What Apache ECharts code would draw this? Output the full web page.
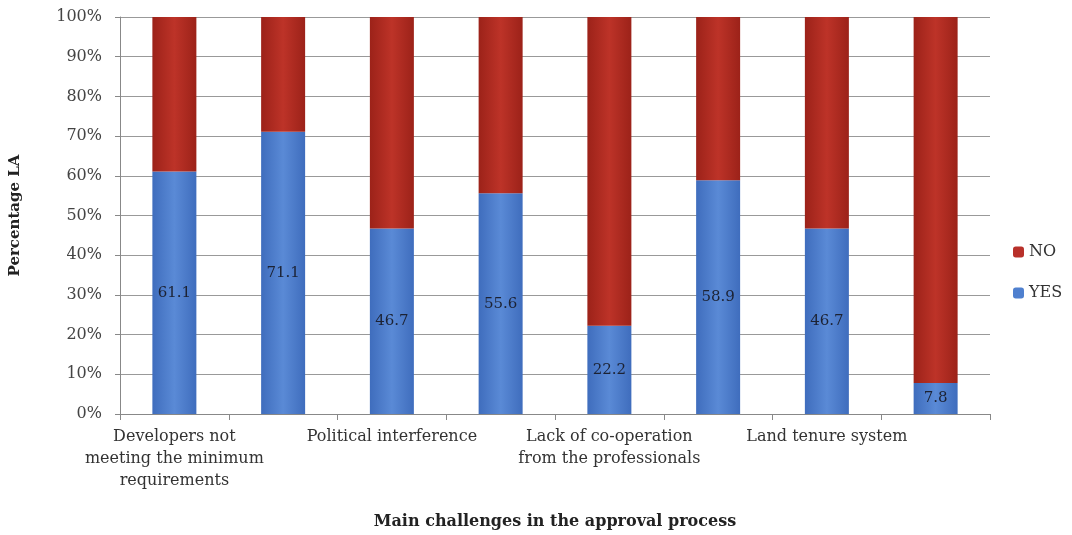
<!DOCTYPE html>
<html>
<head>
<meta charset="utf-8">
<script src="https://cdn.jsdelivr.net/npm/echarts@6/dist/echarts.min.js"></script>
<style>
html,body{margin:0;padding:0;background:#fff;}
#main{width:1072px;height:535px;}
</style>
</head>
<body>
<div id="main"></div>
<script>
// categories (only every other one is labelled on the axis)
var categories = [
    'Developers not\nmeeting the minimum\nrequirements',
    'Challenge 2',
    'Political interference',
    'Challenge 4',
    'Lack of co-operation\nfrom the professionals',
    'Challenge 6',
    'Land tenure system',
    'Challenge 8'
];
var yesValues = [61.1, 71.1, 46.7, 55.6, 22.2, 58.9, 46.7, 7.8];
var noValues = [38.9, 28.9, 53.3, 44.4, 77.8, 41.1, 53.3, 92.2];
var yTicks = ['0%','10%','20%','30%','40%','50%','60%','70%','80%','90%','100%'];

var font = 'DejaVu Serif';

function barGrad(edge, mid){
    return new echarts.graphic.LinearGradient(0, 0, 1, 0, [
        {offset: 0, color: edge},
        {offset: 0.5, color: mid},
        {offset: 1, color: edge}
    ]);
}

var myChart = echarts.init(document.getElementById('main'));
var option = {
    animation: false,
    backgroundColor: '#fff',
    grid: {left: 117, right: 82, top: 17, bottom: 117},
    legend: {
        orient: 'vertical',
        left: 1008,
        top: 239,
        itemWidth: 11,
        itemHeight: 11,
        itemGap: 25,
        data: [
            {name: 'NO', itemStyle: {color: '#b8302a'}},
            {name: 'YES', itemStyle: {color: '#4f80cf'}}
        ],
        textStyle: {fontFamily: font, fontSize: 16, color: '#333'}
    },
    xAxis: {
        type: 'category',
        data: categories,
        name: 'Main challenges in the approval process',
        nameLocation: 'middle',
        nameGap: 100,
        nameTextStyle: {fontFamily: font, fontSize: 16, fontWeight: 'bold', color: '#222'},
        axisLine: {lineStyle: {color: '#888'}},
        axisTick: {show: true, interval: 0, length: 6, lineStyle: {color: '#888'}},
        axisLabel: {
            interval: 1,
            margin: 12,
            fontFamily: font,
            fontSize: 16,
            lineHeight: 22,
            color: '#333'
        }
    },
    yAxis: {
        type: 'value',
        min: 0,
        max: 100,
        interval: 10,
        name: 'Percentage LA',
        nameLocation: 'middle',
        nameGap: 97,
        nameTextStyle: {fontFamily: font, fontSize: 15, fontWeight: 'bold', color: '#222'},
        axisLine: {show: true, lineStyle: {color: '#888'}},
        axisTick: {show: true, length: 5, lineStyle: {color: '#888'}},
        splitLine: {lineStyle: {color: '#999', width: 1}},
        axisLabel: {
            margin: 18,
            fontFamily: font,
            fontSize: 16,
            color: '#444',
            formatter: function(v){ return yTicks[Math.round(v / 10)]; }
        }
    },
    series: [
        {
            name: 'YES',
            type: 'bar',
            stack: 'all',
            barWidth: 44,
            data: yesValues,
            itemStyle: {color: barGrad('#3f6dbd', '#5a8ad6')},
            label: {
                show: true,
                position: 'inside',
                fontFamily: font,
                fontSize: 15,
                color: '#1c2233',
                formatter: function(p){ return p.value.toFixed(1); }
            }
        },
        {
            name: 'NO',
            type: 'bar',
            stack: 'all',
            barWidth: 44,
            data: noValues,
            itemStyle: {color: barGrad('#9c2219', '#bd3328')}
        }
    ]
};
myChart.setOption(option);
</script>
</body>
</html>
